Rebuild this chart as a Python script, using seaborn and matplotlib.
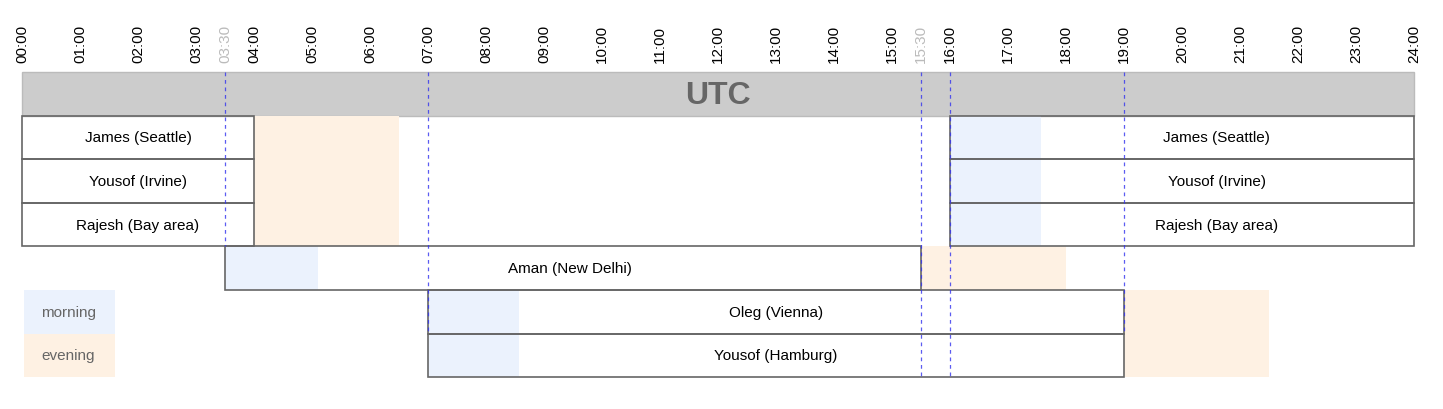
import matplotlib
matplotlib.use("Agg")
import matplotlib.pyplot as plt
import seaborn as sns

sns.set_style("white")
plt.rcParams['font.family'] = ['Arial', 'Liberation Sans', 'DejaVu Sans']

tick_hours = [0, 1, 2, 3, 3.5, 4, 5, 6, 7, 8, 9, 10, 11, 12, 13, 14, 15, 15.5, 16, 17, 18, 19, 20, 21, 22, 23, 24]
tick_labels = ["00:00", "01:00", "02:00", "03:00", "03:30", "04:00", "05:00", "06:00", "07:00", "08:00",
               "09:00", "10:00", "11:00", "12:00", "13:00", "14:00", "15:00", "15:30", "16:00", "17:00",
               "18:00", "19:00", "20:00", "21:00", "22:00", "23:00", "24:00"]
grey_ticks = ["03:30", "15:30"]

# segments: (row, start, end)
seg_rows = [1, 1, 2, 2, 3, 3, 4, 5, 6]
seg_start = [0, 16, 0, 16, 0, 16, 3.5, 7, 7]
seg_end = [4, 24, 4, 24, 4, 24, 15.5, 19, 19]

labels = ["James (Seattle)", "James (Seattle)", "Yousof (Irvine)", "Yousof (Irvine)",
          "Rajesh (Bay area)", "Rajesh (Bay area)", "Aman (New Delhi)", "Oleg (Vienna)", "Yousof (Hamburg)"]
label_x = [2.0, 20.6, 2.0, 20.6, 2.0, 20.6, 9.45, 13.0, 13.0]

# shading
shade_row = [1, 1, 4, 4, 5, 5]
shade_n = [3, 3, 1, 1, 2, 2]
shade_start = [4, 16, 3.5, 15.5, 7, 19]
shade_end = [6.5, 17.57, 5.1, 18.0, 8.57, 21.5]
shade_kind = ["evening", "morning", "morning", "evening", "morning", "evening"]

# dashed lines
vline_hours = [3.5, 7, 15.5, 16, 19]
vline_bottom = [4, 6, 7, 7, 6]

colors = {"morning": "#EBF2FD", "evening": "#FEF1E3"}

fig = plt.figure(figsize=(14.43, 4.10), dpi=100)
ax = fig.add_axes([0, 0, 1, 1])
px = 58.0
row_h = 43.6
ax.set_xlim(-22 / px, (1443 - 22) / px)
ax.set_ylim((410 - 73) / row_h, -73 / row_h)
ax.axis("off")

ax.barh(0, 24, left=0, height=1, align="edge", color="#CCCCCC", edgecolor="#BBBBBB", linewidth=1)
ax.text(12, 0.52, "UTC", ha="center", va="center", fontsize=23, fontweight="bold", color="#666666")

for r, n, s, e, k in zip(shade_row, shade_n, shade_start, shade_end, shade_kind):
    ax.barh(r, e - s, left=s, height=n, align="edge", color=colors[k], linewidth=0, zorder=1)

ax.barh(5, 1.57, left=0.03, height=1, align="edge", color=colors["morning"], linewidth=0)
ax.barh(6, 1.57, left=0.03, height=1, align="edge", color=colors["evening"], linewidth=0)
ax.text(0.8, 5.5, "morning", ha="center", va="center", fontsize=11, color="#666666")
ax.text(0.8, 6.5, "evening", ha="center", va="center", fontsize=11, color="#666666")

for r, s, e in zip(seg_rows, seg_start, seg_end):
    ax.barh(r, e - s, left=s, height=1, align="edge", fill=False, edgecolor="#666666", linewidth=1.2, zorder=3)
for r, x, t in zip(seg_rows, label_x, labels):
    ax.text(x, r + 0.5, t, ha="center", va="center", fontsize=11, color="black", zorder=4)

for h, b in zip(vline_hours, vline_bottom):
    ax.plot([h, h], [0, b], linestyle=(0, (3, 3)), color="#3333EE", linewidth=0.9, alpha=0.8, zorder=5)

for h, t in zip(tick_hours, tick_labels):
    ax.text(h, -10 / row_h, t, rotation=90, ha="center", va="bottom", fontsize=11,
            color="#BBBBBB" if t in grey_ticks else "black")

fig.savefig("out.png", dpi=100)
